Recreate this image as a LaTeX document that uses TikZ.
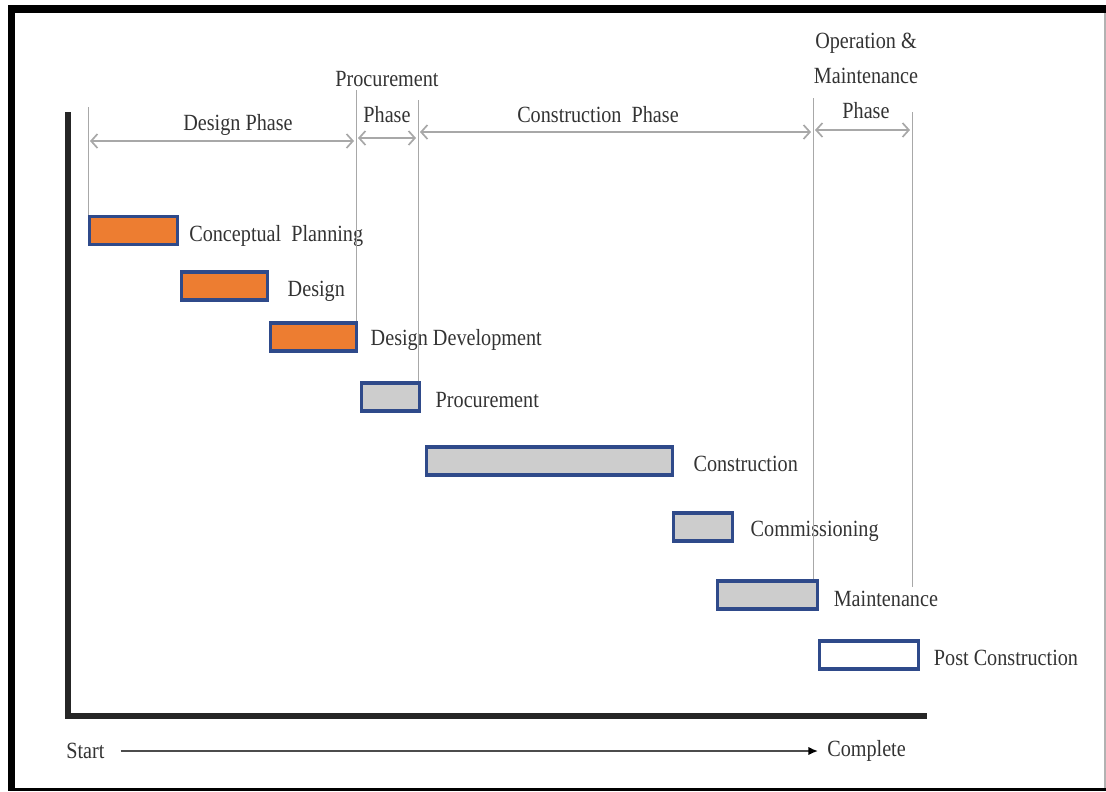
\documentclass[tikz,border=0pt]{standalone}
\usepackage{fontspec}
\setmainfont{Liberation Serif}[FakeStretch=0.87]
\usetikzlibrary{positioning,arrows.meta}
\definecolor{barorange}{HTML}{ED7D31}
\definecolor{bargray}{HTML}{CDCDCD}
\definecolor{barblue}{HTML}{2F4A8A}
\definecolor{txtgray}{HTML}{333333}
\definecolor{linegray}{HTML}{A8A8A8}
\tikzset{
  task/.style={draw=barblue, line width=2.2pt, minimum height=0.7cm, inner sep=0pt},
  tasklabel/.style={anchor=west, inner sep=0pt, text=txtgray, font=\fontsize{16.5}{18}\selectfont},
  phaseline/.style={linegray, line width=0.7pt},
  phasearrow/.style={{Straight Barb[length=4.5pt,width=10pt]}-{Straight Barb[length=4.5pt,width=10pt]}, linegray, line width=1.2pt},
  phaselabel/.style={text=txtgray, align=center, inner sep=0pt, font=\fontsize{16.5}{25}\selectfont}
}
\begin{document}
\begin{tikzpicture}[x=0.025cm, y=-0.025cm, >=latex]
\useasboundingbox (0,0) rectangle (1106,791);
% Frame
\fill[black] (8,5) rectangle (15,791);
\fill[black] (8,5) rectangle (1106,13);
\fill[black] (8,788) rectangle (1106,791);
\draw[gray!60, line width=0.8pt] (1105,13) -- (1105,788);
% Axes
\draw[line width=3.6pt, black!85] (68,112) -- (68,716) -- (927,716);
% Tasks
\node[task, fill=barorange, minimum width=2.2cm] (cp) at (133.5,230.5) {};
\node[task, fill=barorange, minimum width=2.15cm] (des) at (224.5,286) {};
\node[task, fill=barorange, minimum width=2.15cm] (dd) at (313.5,337) {};
\node[task, fill=bargray, minimum width=1.45cm] (proc) at (390.5,397) {};
\node[task, fill=bargray, minimum width=6.15cm] (cons) at (549.5,461) {};
\node[task, fill=bargray, minimum width=1.475cm] (comm) at (703,527) {};
\node[task, fill=bargray, minimum width=2.5cm] (maint) at (767.5,595) {};
\node[task, fill=white, minimum width=2.475cm] (post) at (869,655) {};
% Task labels
\node[tasklabel, right=0.25cm of cp.east, yshift=-4pt] (cpl) {Conceptual\ \ Planning};
\node[tasklabel, right=0.46cm of des.east, yshift=-4pt] (desl) {Design};
\node[tasklabel, right=0.31cm of dd.east, yshift=-2pt] (ddl) {Design Development};
\node[tasklabel, right=0.36cm of proc.east, yshift=-2pt] (procl) {Procurement};
\node[tasklabel, right=0.48cm of cons.east, yshift=-2pt] (consl) {Construction};
\node[tasklabel, right=0.41cm of comm.east, yshift=-3pt] (comml) {Commissioning};
\node[tasklabel, right=0.36cm of maint.east, yshift=-3pt] (maintl) {Maintenance};
\node[tasklabel, right=0.34cm of post.east, yshift=-2pt] (postl) {Post Construction};
% Phase boundaries
\coordinate (b0) at (88,107);
\coordinate (b1) at (356,90);
\coordinate (b2) at (418,100);
\coordinate (b3) at (813,98);
\coordinate (b4) at (912,112);
\draw[phaseline] (b0) -- (b0 |- cp.north);
\draw[phaseline] (b1) -- (b1 |- dd.north);
\draw[phaseline] (b2) -- (b2 |- proc.north);
\draw[phaseline] (b3) -- (b3 |- maint.north);
\draw[phaseline] (b4) -- (912,587);
% Phase arrows
\draw[phasearrow] (90,141) -- (354,141);
\draw[phasearrow] (358,138) -- (416,138);
\draw[phasearrow] (420,132) -- (811,132);
\draw[phasearrow] (815,130) -- (910,130);
% Phase labels
\node[phaselabel] (dph) at (238,125) {Design Phase};
\node[phaselabel] (pph) at (387,97) {Procurement\\Phase};
\node[phaselabel] (cph) at (598,115) {Construction\ \ Phase};
\node[phaselabel] (oph) at (866,76) {Operation \&\\Maintenance\\Phase};
% Time direction
\node[tasklabel] (start) at (66,751) {Start};
\node[tasklabel] (done) at (827,751) {Complete};
\draw[-{Latex[length=7pt,width=6pt,black]}, line width=1.6pt, black!70] ([xshift=0.4cm]start.east) -- ([xshift=-0.22cm]done.west);
\end{tikzpicture}
\end{document}
